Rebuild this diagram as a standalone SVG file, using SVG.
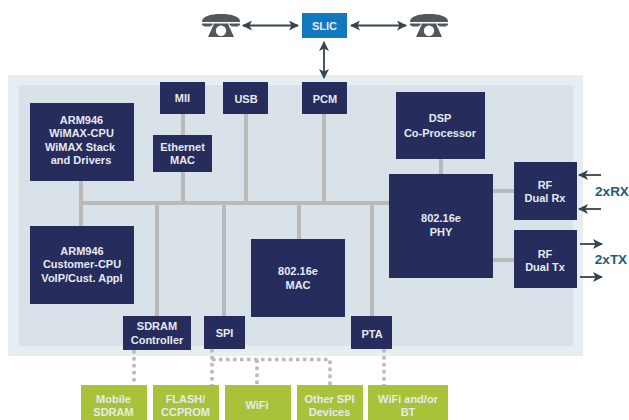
<svg xmlns="http://www.w3.org/2000/svg" width="629" height="420" viewBox="0 0 629 420">
<style>
text{font-family:"Liberation Sans",Arial,sans-serif;font-weight:700;font-size:11px;text-anchor:middle;fill:#e6eaf0}
.n{fill:#262c5c}.g{fill:#a8c23a}.b{fill:#bababa;stroke:none}
.d{fill:none;stroke:#bababa;stroke-width:3.5;stroke-dasharray:3.5 3.5}
.a{fill:none;stroke:#36454f;stroke-width:1.8}
.ph{fill:#53575d}
.lbl{fill:#1c5c7c;font-size:13.500px}
</style>
<defs>
<marker id="ah" viewBox="0 0 10 10" refX="9" refY="5" markerWidth="10" markerHeight="10" markerUnits="userSpaceOnUse" orient="auto-start-reverse"><path d="M0 0L10 5L0 10L2.5 5Z" fill="#36454f"/></marker>
<g id="phone"><path class="ph" d="M0 7.500C0 2.500 8 0 19 0S38 2.500 38 7.500V8H0Z"/><path class="ph" d="M0 9.500H10.500V11L8 12.500H2.500L0 11ZM38 9.500H27.500V11L30 12.500H35.500L38 11Z"/><path class="ph" fill-rule="evenodd" d="M11.500 9.500H26.500V11L32 23H6L11.500 11ZM19 11.500A5.200 5.200 0 1 0 19 21.900A5.200 5.200 0 1 0 19 11.500Z"/></g>
</defs>
<rect x="8" y="75" width="575" height="281" fill="#e6eef2"/>
<rect x="19" y="85" width="554" height="261" fill="#d8e2e8"/>
<g id="connectors">
<rect class="b" x="79" y="201" width="312" height="4"/>
<rect class="b" x="79" y="181" width="4" height="45"/>
<rect class="b" x="155" y="205" width="4" height="111"/>
<rect class="b" x="222" y="205" width="4" height="111"/>
<rect class="b" x="181" y="114" width="4" height="87"/>
<rect class="b" x="244" y="114" width="4" height="87"/>
<rect class="b" x="322" y="114" width="4" height="87"/>
<rect class="b" x="297" y="205" width="4" height="34"/>
<rect class="b" x="370" y="205" width="4" height="111"/>
<rect class="b" x="439" y="159" width="4" height="15"/>
<rect class="b" x="493" y="189" width="21" height="4"/>
<rect class="b" x="493" y="258" width="21" height="4"/>
<path class="d" d="M134 350V385M212 349V385M212 359.500H330V385M257 359.500V385M384 349V385"/>
<path class="a" marker-start="url(#ah)" marker-end="url(#ah)" d="M243 25.500H298"/>
<path class="a" marker-start="url(#ah)" marker-end="url(#ah)" d="M351 25.500H406"/>
<path class="a" marker-start="url(#ah)" marker-end="url(#ah)" d="M324 42V78"/>
<path class="a" marker-end="url(#ah)" d="M601 175H579"/>
<path class="a" marker-end="url(#ah)" d="M601 209H579"/>
<path class="a" marker-end="url(#ah)" d="M580 244H602"/>
<path class="a" marker-end="url(#ah)" d="M580 277H602"/>
</g>
<g id="phone-left"><use href="#phone" x="202" y="14"/></g>
<g id="phone-right"><use href="#phone" x="410" y="14"/></g>
<g id="slic"><rect x="302" y="13" width="45" height="25" fill="#1279bf"/><text x="324.500" y="30">SLIC</text></g>
<g id="mii"><rect class="n" x="160" y="82" width="45" height="32"/><text x="182.500" y="102">MII</text></g>
<g id="usb"><rect class="n" x="223" y="82" width="45" height="32"/><text x="246" y="103">USB</text></g>
<g id="pcm"><rect class="n" x="302" y="82" width="45" height="32"/><text x="325" y="103">PCM</text></g>
<g id="ethernet-mac"><rect class="n" x="153" y="135" width="59" height="37"/><text x="182.500" y="151">Ethernet</text><text x="182.500" y="164">MAC</text></g>
<g id="arm-wimax"><rect class="n" x="30" y="103" width="104" height="78"/><text x="81.500" y="124">ARM946</text><text x="81.500" y="137">WiMAX-CPU</text><text x="80" y="151">WiMAX Stack</text><text x="81" y="164">and Drivers</text></g>
<g id="arm-customer"><rect class="n" x="30" y="226" width="104" height="78"/><text x="82" y="255">ARM946</text><text x="82" y="268">Customer-CPU</text><text x="82" y="282">VoIP/Cust. Appl</text></g>
<g id="dsp"><rect class="n" x="396" y="92" width="89" height="67"/><text x="440" y="122">DSP</text><text x="440" y="137">Co-Processor</text></g>
<g id="phy"><rect class="n" x="389" y="174" width="104" height="104"/><text x="441" y="222">802.16e</text><text x="441" y="236">PHY</text></g>
<g id="mac"><rect class="n" x="251" y="239" width="94" height="78"/><text x="298" y="275">802.16e</text><text x="298" y="289">MAC</text></g>
<g id="rf-rx"><rect class="n" x="514" y="162" width="63" height="58"/><text x="545" y="189">RF</text><text x="545" y="202">Dual Rx</text></g>
<g id="rf-tx"><rect class="n" x="514" y="230" width="63" height="58"/><text x="545" y="258">RF</text><text x="545" y="271">Dual Tx</text></g>
<g id="sdram"><rect class="n" x="123" y="316" width="68" height="34"/><text x="157" y="330">SDRAM</text><text x="157" y="344">Controller</text></g>
<g id="spi"><rect class="n" x="204" y="316" width="41" height="33"/><text x="224.500" y="337">SPI</text></g>
<g id="pta"><rect class="n" x="351" y="316" width="41" height="33"/><text x="372" y="338">PTA</text></g>
<g id="mobile-sdram"><rect class="g" x="81" y="385" width="66" height="35"/><text x="113.500" y="403">Mobile</text><text x="113.500" y="416">SDRAM</text></g>
<g id="flash"><rect class="g" x="153" y="385" width="66" height="35"/><text x="185.500" y="403">FLASH/</text><text x="185.500" y="416">CCPROM</text></g>
<g id="wifi"><rect class="g" x="225" y="385" width="66" height="35"/><text x="257" y="409">WiFi</text></g>
<g id="other-spi"><rect class="g" x="297" y="385" width="66" height="35"/><text x="329.500" y="403">Other SPI</text><text x="329.500" y="416">Devices</text></g>
<g id="wifi-bt"><rect class="g" x="368" y="385" width="80" height="35"/><text x="408" y="403">WiFi and/or</text><text x="408" y="416">BT</text></g>
<text class="lbl" x="612" y="196">2xRX</text>
<text class="lbl" x="611" y="264">2xTX</text>
</svg>
